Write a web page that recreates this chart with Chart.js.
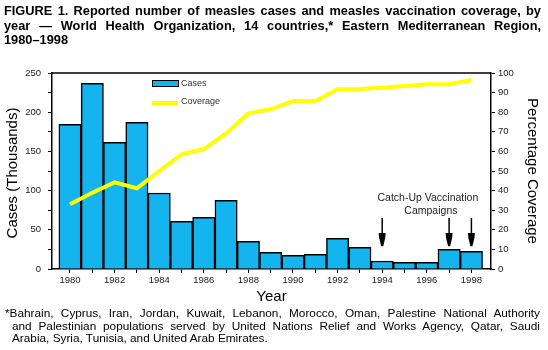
<!DOCTYPE html>
<html>
<head>
<meta charset="utf-8">
<script src="https://cdn.jsdelivr.net/npm/chart.js@4.4.0/dist/chart.umd.min.js"></script>
<style>
  html, body { margin: 0; padding: 0; background: #fff; }
  #wrap { position: relative; width: 548px; height: 350px; overflow: hidden;
          font-family: "Liberation Sans", Arial, Helvetica, sans-serif; color: #000; }
  #titulo { position: absolute; left: 4px; top: 4px; width: 537px; font-weight: bold;
            font-size: 12.8px; line-height: 14.5px; }
  #nota { position: absolute; left: 5px; top: 307px; width: 535px; font-size: 11.8px;
          line-height: 12.5px; }
  .j { text-align: justify; text-align-last: justify; white-space: normal; }
  #nota div { padding-left: 7px; }
  #nota div.primera { padding-left: 0; }
  canvas { position: absolute; left: 0; top: 0; }
</style>
</head>
<body>
<div id="wrap">
  <canvas id="grafico" width="548" height="350"></canvas>
  <div id="titulo">
    <div class="j">FIGURE 1. Reported number of measles cases and measles vaccination coverage, by</div>
    <div class="j">year — World Health Organization, 14 countries,* Eastern Mediterranean Region,</div>
    <div>1980–1998</div>
  </div>
  <div id="nota">
    <div class="j primera">*Bahrain, Cyprus, Iran, Jordan, Kuwait, Lebanon, Morocco, Oman, Palestine National Authority</div>
    <div class="j">and Palestinian populations served by United Nations Relief and Works Agency, Qatar, Saudi</div>
    <div>Arabia, Syria, Tunisia, and United Arab Emirates.</div>
  </div>
</div>
<script>
// Datos
const anios = [1980, 1981, 1982, 1983, 1984, 1985, 1986, 1987, 1988, 1989,
               1990, 1991, 1992, 1993, 1994, 1995, 1996, 1997, 1998];
// Casos (miles)
const casos = [184.5, 236.8, 161.6, 187, 96.9, 60.8, 65.9, 87.6, 35.3, 21.3,
               17.4, 18.7, 39.1, 27.6, 10.2, 8.5, 8.5, 25.1, 22.5];
// Cobertura (%)
const cobertura = [33, 38.9, 44.2, 41.2, 50, 58.5, 61.2, 69.2, 79.4, 81.5,
                   85.7, 85.7, 91.7, 91.8, 92.5, 93.4, 94.2, 94.2, 96.4];
const etiquetasX = [1980, 1982, 1984, 1986, 1988, 1990, 1992, 1994, 1996, 1998];
const ticksCasos = [0, 25, 50, 75, 100, 125, 150, 175, 200, 225, 250];
const ticksCobertura = [0, 5, 10, 15, 20, 25, 30, 35, 40, 45, 50, 55, 60, 65, 70, 75, 80, 85, 90, 95, 100];
const aniosCampana = [1994, 1997, 1998];

const colorBarra = '#14b4ee';
const fuente = '"Liberation Sans", Arial, Helvetica, sans-serif';
Chart.defaults.font.family = fuente;

// Dibujos extra: borde superior, leyenda, flechas, titulos de ejes
const extras = {
  id: 'extras',
  afterDraw(chart) {
    const ctx = chart.ctx;
    const a = chart.chartArea;
    const sx = chart.scales.x, sy = chart.scales.y;
    ctx.save();

    // borde superior
    ctx.strokeStyle = '#000';
    ctx.lineWidth = 1.5;
    ctx.beginPath();
    ctx.moveTo(a.left, a.top);
    ctx.lineTo(a.right, a.top);
    ctx.stroke();

    // leyenda
    const lx = a.left + 100, ly = a.top + 7;
    ctx.fillStyle = colorBarra;
    ctx.fillRect(lx, ly, 26, 6);
    ctx.lineWidth = 1;
    ctx.strokeRect(lx + 0.5, ly + 0.5, 26, 6);
    ctx.strokeStyle = '#ffff00';
    ctx.lineWidth = 4;
    ctx.beginPath();
    ctx.moveTo(lx, ly + 23);
    ctx.lineTo(lx + 26, ly + 23);
    ctx.stroke();
    ctx.fillStyle = '#333';
    ctx.font = '9px ' + fuente;
    ctx.textBaseline = 'middle';
    ctx.textAlign = 'left';
    ctx.fillText('Cases', lx + 29, ly + 4);
    ctx.fillText('Coverage', lx + 29, ly + 22);

    // flechas de campañas
    ctx.fillStyle = '#000';
    ctx.strokeStyle = '#000';
    aniosCampana.forEach(an => {
      const x = sx.getPixelForValue(an);
      const yTop = sy.getPixelForValue(65);
      const yHead = sy.getPixelForValue(46);
      const yTip = sy.getPixelForValue(29);
      ctx.lineWidth = 1.5;
      ctx.beginPath();
      ctx.moveTo(x, yTop);
      ctx.lineTo(x, yHead);
      ctx.stroke();
      ctx.beginPath();
      ctx.moveTo(x - 3.5, yHead);
      ctx.lineTo(x + 3.5, yHead);
      ctx.lineTo(x + 3, yHead + 5);
      ctx.lineTo(x + 1, yTip);
      ctx.lineTo(x - 1, yTip);
      ctx.lineTo(x - 3, yHead + 5);
      ctx.closePath();
      ctx.fill();
    });
    ctx.fillStyle = '#222';
    ctx.font = '10.5px ' + fuente;
    ctx.textAlign = 'center';
    const xt = sx.getPixelForValue(1996.05);
    ctx.fillText('Catch-Up Vaccination', xt, sy.getPixelForValue(90.6));
    ctx.fillText('Campaigns', xt + 3, sy.getPixelForValue(74));

    // titulos de ejes
    ctx.fillStyle = '#000';
    ctx.font = '15px ' + fuente;
    ctx.fillText('Year', (a.left + a.right) / 2, 297);
    ctx.save();
    ctx.translate(13, (a.top + a.bottom) / 2 + 2);
    ctx.rotate(-Math.PI / 2);
    ctx.fillText('Cases (Thousands)', 0, 0);
    ctx.restore();
    ctx.save();
    ctx.translate(532, (a.top + a.bottom) / 2);
    ctx.rotate(Math.PI / 2);
    ctx.fillText('Percentage Coverage', 0, 0);
    ctx.restore();

    ctx.restore();
  }
};

const ejeComun = {
  grid: { drawOnChartArea: false, drawTicks: true, tickLength: 4, color: '#000', lineWidth: 1 },
  border: { display: true, color: '#000', width: 1.5 }
};

new Chart(document.getElementById('grafico'), {
  data: {
    datasets: [
      {
        type: 'line',
        label: 'Coverage',
        data: anios.map((a, i) => ({ x: a, y: cobertura[i] })),
        yAxisID: 'y1',
        borderColor: '#ffff00',
        borderWidth: 4,
        pointRadius: 0,
        tension: 0,
        order: 0
      },
      {
        type: 'bar',
        label: 'Cases',
        data: anios.map((a, i) => ({ x: a, y: casos[i] })),
        yAxisID: 'y',
        backgroundColor: colorBarra,
        borderColor: '#000',
        borderWidth: 1.5,
        barPercentage: 1,
        categoryPercentage: 1,
        order: 1
      }
    ]
  },
  options: {
    responsive: false,
    animation: false,
    layout: { padding: { top: 73, left: 0, right: 0, bottom: 0 } },
    plugins: { legend: { display: false }, tooltip: { enabled: false } },
    scales: {
      x: {
        type: 'linear',
        min: 1979.193,
        max: 1998.879,
        offset: false,
        afterBuildTicks: s => { s.ticks = anios.map(v => ({ value: v })); },
        afterFit: s => { s.height = 81; },
        ticks: {
          autoSkip: false, maxRotation: 0, minRotation: 0, padding: 2,
          color: '#222', font: { size: 9.5 },
          callback: v => etiquetasX.includes(v) ? String(v) : ''
        },
        grid: Object.assign({}, ejeComun.grid, { offset: false }),
        border: ejeComun.border
      },
      y: {
        position: 'left',
        min: 0, max: 250,
        afterBuildTicks: s => { s.ticks = ticksCasos.map(v => ({ value: v })); },
        afterFit: s => { s.width = 52; },
        ticks: {
          padding: 7, color: '#222', font: { size: 9.5 },
          callback: v => v % 50 === 0 ? String(v) : ''
        },
        grid: ejeComun.grid,
        border: ejeComun.border
      },
      y1: {
        position: 'right',
        min: 0, max: 100,
        afterBuildTicks: s => { s.ticks = ticksCobertura.map(v => ({ value: v })); },
        afterFit: s => { s.width = 57; },
        ticks: {
          padding: 3, color: '#222', font: { size: 9.5 },
          callback: v => v % 10 === 0 ? String(v) : ''
        },
        grid: ejeComun.grid,
        border: ejeComun.border
      }
    }
  },
  plugins: [extras]
});
</script>
</body>
</html>
